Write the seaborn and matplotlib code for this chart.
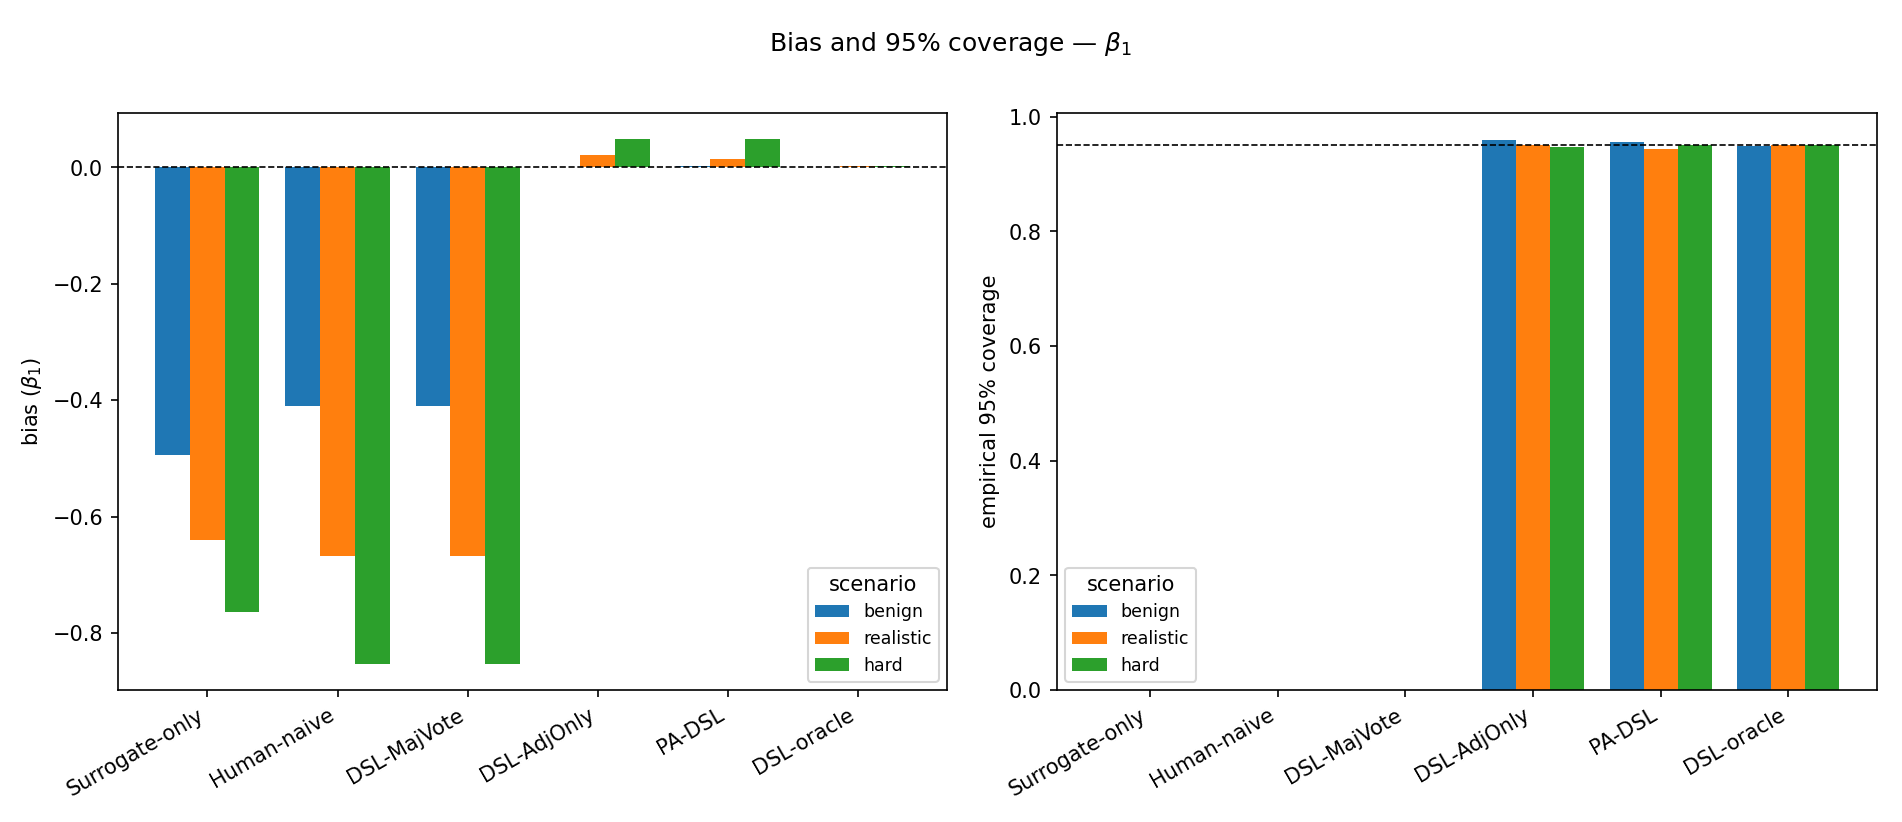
import matplotlib
matplotlib.use("Agg")

import matplotlib.pyplot as plt
import pandas as pd
import seaborn as sns

METHODS = ["Surrogate-only", "Human-naive", "DSL-MajVote", "DSL-AdjOnly", "PA-DSL", "DSL-oracle"]
SCENARIOS = ["benign", "realistic", "hard"]
COLORS = ["#1f77b4", "#ff7f0e", "#2ca02c"]

# bias of beta_1, one list per scenario (same order as METHODS)
bias_benign = [-0.494, -0.410, -0.410, 0.001, 0.003, 0.001]
bias_realistic = [-0.640, -0.667, -0.667, 0.022, 0.015, 0.002]
bias_hard = [-0.763, -0.853, -0.853, 0.049, 0.048, 0.002]

# empirical 95% coverage (first three methods have no CI -> 0)
cov_benign = [0.0, 0.0, 0.0, 0.959, 0.956, 0.949]
cov_realistic = [0.0, 0.0, 0.0, 0.950, 0.944, 0.951]
cov_hard = [0.0, 0.0, 0.0, 0.947, 0.951, 0.951]


def long_frame(benign, realistic, hard):
    rows = []
    for scen, vals in zip(SCENARIOS, [benign, realistic, hard]):
        for m, v in zip(METHODS, vals):
            rows.append({"method": m, "scenario": scen, "value": v})
    return pd.DataFrame(rows)


def draw_panel(ax, df, ref, ylabel, legend_loc, left_pad):
    sns.barplot(data=df, x="method", y="value", hue="scenario", order=METHODS,
                hue_order=SCENARIOS, palette=COLORS, saturation=1, width=0.8,
                linewidth=0, errorbar=None, ax=ax)
    ax.axhline(ref, color="black", linestyle="--", linewidth=0.8)
    n = len(METHODS)
    ax.set_xlim(-0.4 - left_pad, n - 1 + 0.69)
    ax.set_xlabel("")
    ax.set_ylabel(ylabel)
    plt.setp(ax.get_xticklabels(), rotation=30, ha="right")
    ax.legend(title="scenario", loc=legend_loc, fontsize="small")


def main():
    fig = plt.figure(figsize=(12.68, 5.481), dpi=150)
    ax1 = fig.add_axes([0.0619, 0.1603, 0.4362, 0.7025])
    ax2 = fig.add_axes([0.5555, 0.1603, 0.4311, 0.7025])

    draw_panel(ax1, long_frame(bias_benign, bias_realistic, bias_hard), 0.0,
               r"bias ($\beta_1$)", "lower right", 0.29)
    draw_panel(ax2, long_frame(cov_benign, cov_realistic, cov_hard), 0.95,
               "empirical 95% coverage", "lower left", 0.33)

    fig.suptitle(r"Bias and 95% coverage — $\beta_1$", y=0.963)
    fig.savefig("out.png", dpi=150)
    plt.close(fig)


if __name__ == "__main__":
    main()
